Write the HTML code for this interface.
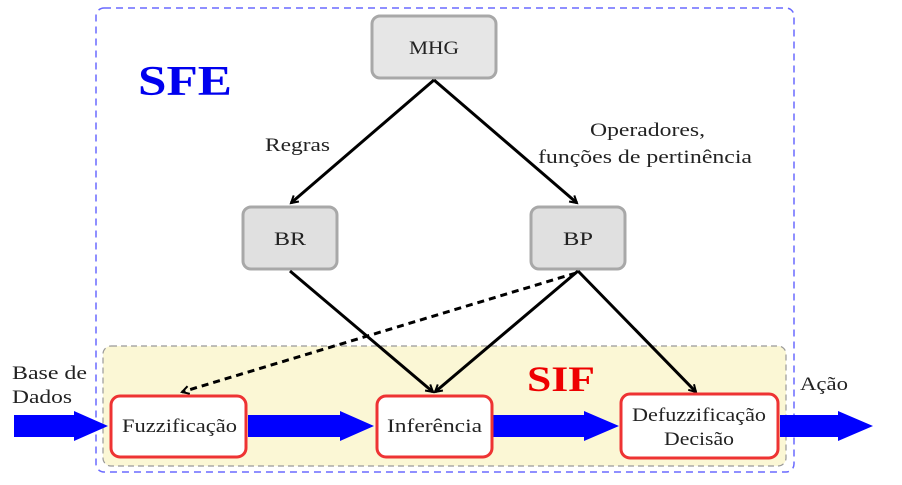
<!DOCTYPE html>
<html><head><meta charset="utf-8"><style>
html,body{margin:0;padding:0;background:#fff;}
</style></head><body>
<svg width="902" height="480" viewBox="0 0 902 480" xmlns="http://www.w3.org/2000/svg" font-family="'Liberation Serif','DejaVu Serif',serif">
<defs>
<marker id="ah" markerWidth="10" markerHeight="10" refX="8" refY="5" orient="auto" markerUnits="userSpaceOnUse">
<path d="M1,1 L8,5 L1,9" fill="none" stroke="#000" stroke-width="2"/>
</marker>
</defs>
<rect x="96" y="8" width="698" height="464" rx="8" fill="none" stroke="#6a6aff" stroke-width="1.5" stroke-dasharray="7,5"/>
<rect x="103" y="346" width="683" height="120" rx="8" fill="#fbf7d5" stroke="#999" stroke-width="1.2" stroke-dasharray="6,4"/>
<g fill="#222" font-family="'Liberation Serif','DejaVu Serif',serif">
<text x="138" y="95" font-size="42" font-weight="bold" fill="#0000ee" textLength="94" lengthAdjust="spacingAndGlyphs">SFE</text>
<text x="527" y="391" font-size="36" font-weight="bold" fill="#ee0000" textLength="68" lengthAdjust="spacingAndGlyphs">SIF</text>
<text x="434" y="54" font-size="19" text-anchor="middle" textLength="50" lengthAdjust="spacingAndGlyphs">MHG</text>
</g>
<!-- gray boxes -->
<rect x="372" y="16" width="124" height="62" rx="8" fill="#e6e6e6" stroke="#a8a8a8" stroke-width="3"/>
<rect x="243" y="207" width="94" height="62" rx="8" fill="#e0e0e0" stroke="#a8a8a8" stroke-width="3"/>
<rect x="531" y="207" width="94" height="62" rx="8" fill="#e0e0e0" stroke="#a8a8a8" stroke-width="3"/>
<!-- connectors -->
<g stroke="#000" stroke-width="3" fill="none" marker-end="url(#ah)">
<line x1="434" y1="80" x2="291" y2="203"/>
<line x1="434" y1="80" x2="577" y2="203"/>
<line x1="290" y1="271" x2="433" y2="392"/>
<line x1="578" y1="271" x2="435" y2="392"/>
<line x1="578" y1="271" x2="696" y2="392"/>
<line x1="576" y1="273" x2="182" y2="392" stroke-dasharray="7,5"/>
</g>
<!-- blue arrows -->
<g fill="#0000ff">
<polygon points="14,415 74,415 74,411 108,426 74,441 74,437 14,437"/>
<polygon points="248,415 340,415 340,411 374,426 340,441 340,437 248,437"/>
<polygon points="493,415 584,415 584,411 619,426 584,441 584,437 493,437"/>
<polygon points="780,415 838,415 838,411 873,426 838,441 838,437 780,437"/>
</g>
<!-- red boxes -->
<rect x="111" y="396" width="135" height="61" rx="9" fill="#fff" stroke="#ee3333" stroke-width="3"/>
<rect x="377" y="396" width="115" height="61" rx="9" fill="#fff" stroke="#ee3333" stroke-width="3"/>
<rect x="621" y="394" width="157" height="64" rx="9" fill="#fff" stroke="#ee3333" stroke-width="3"/>
<g fill="#222" font-size="19" font-family="'Liberation Serif','DejaVu Serif',serif">
<text x="434" y="54" text-anchor="middle" textLength="50" lengthAdjust="spacingAndGlyphs">MHG</text>
<text x="290" y="245" text-anchor="middle" textLength="32" lengthAdjust="spacingAndGlyphs">BR</text>
<text x="578" y="245" text-anchor="middle" textLength="30" lengthAdjust="spacingAndGlyphs">BP</text>
<text x="265" y="151" textLength="65" lengthAdjust="spacingAndGlyphs">Regras</text>
<text x="590" y="136" textLength="115" lengthAdjust="spacingAndGlyphs">Operadores,</text>
<text x="538" y="163" textLength="214" lengthAdjust="spacingAndGlyphs">funções de pertinência</text>
<text x="12" y="379" textLength="75" lengthAdjust="spacingAndGlyphs">Base de</text>
<text x="12" y="403" textLength="60" lengthAdjust="spacingAndGlyphs">Dados</text>
<text x="800" y="390" textLength="48" lengthAdjust="spacingAndGlyphs">Ação</text>
<text x="122" y="432" textLength="115" lengthAdjust="spacingAndGlyphs">Fuzzificação</text>
<text x="387" y="432" textLength="95" lengthAdjust="spacingAndGlyphs">Inferência</text>
<text x="632" y="421" textLength="134" lengthAdjust="spacingAndGlyphs">Defuzzificação</text>
<text x="664" y="445" textLength="70" lengthAdjust="spacingAndGlyphs">Decisão</text>
</g>
</svg>
</body></html>
